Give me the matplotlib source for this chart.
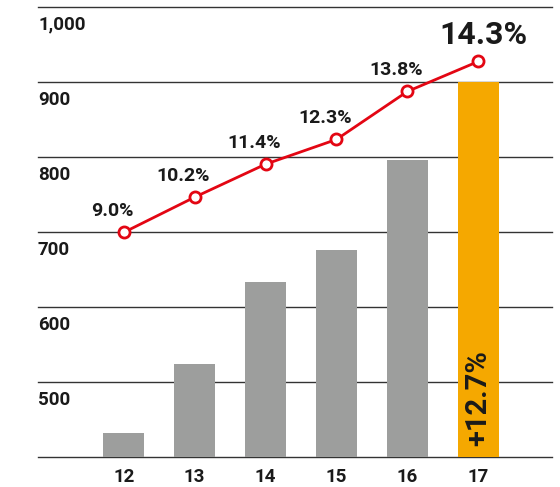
import matplotlib.pyplot as plt

# data
years = ["12", "13", "14", "15", "16", "17"]
bar_values = [432, 524, 634, 676, 796, 901]
line_values = [700, 747, 791, 824, 888, 928]
line_labels = ["9.0%", "10.2%", "11.4%", "12.3%", "13.8%", "14.3%"]
growth_label = "+12.7%"
y_ticks = [1000, 900, 800, 700, 600, 500]
y_tick_labels = ["1,000", "900", "800", "700", "600", "500"]

GRAY = "#9d9e9d"
ORANGE = "#f5a800"
RED = "#e30613"
TEXT = "#1a1a1a"

plt.rcParams['font.family'] = ['Roboto', 'DejaVu Sans']

fig = plt.figure(figsize=(5.6, 4.87), dpi=100)
ax = fig.add_axes([38 / 560, (487 - 457.3) / 487, (552 - 38) / 560, (457.3 - 7.5) / 487])

x = list(range(len(years)))
colors = [GRAY] * (len(years) - 1) + [ORANGE]
ax.bar(x, bar_values, width=0.58, color=colors, bottom=0, zorder=2)

ax.set_xlim(-1.21, 6.04)
ax.set_ylim(400, 1000)

# gridlines with labels sitting below each line
for v, lab in zip(y_ticks + [400], y_tick_labels + [""]):
    ax.axhline(v, color="#333333", lw=1.0, zorder=1, clip_on=False)
    if lab:
        ax.annotate(lab, xy=(0, v), xycoords=("axes fraction", "data"),
                    xytext=(0, -6), textcoords="offset points",
                    ha="left", va="top", fontsize=13.5, fontweight="bold", color=TEXT)

# x labels
for xi, lab in zip(x, years):
    ax.annotate(lab, xy=(xi, 400), xytext=(0, -8), textcoords="offset points",
                ha="center", va="top", fontsize=13.5, fontweight="bold", color=TEXT,
                annotation_clip=False)

# percentage line
ax.plot(x, line_values, color=RED, lw=2, marker="o", markersize=8,
        markerfacecolor="white", markeredgecolor=RED, markeredgewidth=2, zorder=4)

for xi, v, lab in zip(x[:-1], line_values[:-1], line_labels[:-1]):
    ax.annotate(lab, xy=(xi, v), xytext=(-8, 9), textcoords="offset points",
                ha="center", va="bottom", fontsize=14, fontweight="bold", color=TEXT, zorder=5)
ax.annotate(line_labels[-1], xy=(x[-1], line_values[-1]), xytext=(4, 8), textcoords="offset points",
            ha="center", va="bottom", fontsize=23, fontweight="bold", color=TEXT, zorder=5)

# growth label inside the last bar
ax.annotate(growth_label, xy=(x[-1], 400), xytext=(0, 8), textcoords="offset points",
            ha="center", va="bottom", rotation=90, fontsize=21, fontweight="bold", color=TEXT, zorder=5)

ax.set_xticks([])
ax.set_yticks([])
for s in ax.spines.values():
    s.set_visible(False)

plt.savefig("out.png", dpi=100)
